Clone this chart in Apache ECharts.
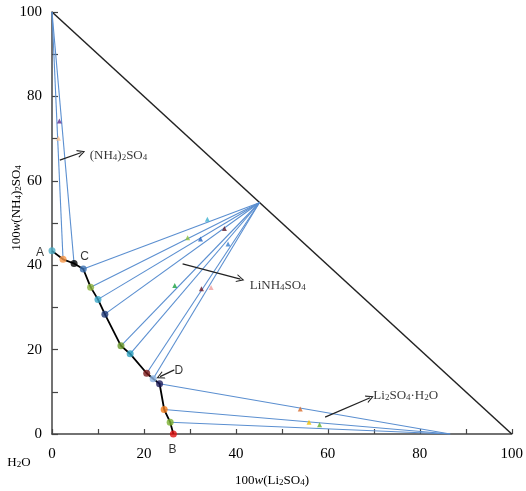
<!DOCTYPE html>
<html>
<head>
<meta charset="utf-8">
<script src="https://cdn.jsdelivr.net/npm/echarts@6/dist/echarts.min.js"></script>
<style>
  html, body { margin: 0; padding: 0; background: #fff; }
  #chart { width: 526px; height: 491px; }
</style>
</head>
<body>
<div id="chart"></div>
<script>
// solubility curve points, A -> B  (x = 100w(Li2SO4), y = 100w((NH4)2SO4))
var curveLi = [0, 2.4, 4.8, 6.8, 8.4, 10.0, 11.5, 15.0, 17.0, 20.6, 22.0, 23.4, 24.4, 25.7, 26.4];
var curveAm = [43.4, 41.4, 40.4, 39.1, 34.8, 31.9, 28.4, 20.9, 19.0, 14.4, 13.1, 11.9, 5.8, 2.8, 0];
var curveColors = ['#4bacc6', '#f79646', '#000000', '#3a6fb0', '#8ab13c', '#3aa7c9', '#1f3a78',
                   '#6a9a2a', '#2aa0c0', '#7a1a1a', '#8db4e2', '#1a1a5a', '#f07a1a', '#7ab030', '#e01010'];

// solid phase points
var solidNames = ['(NH4)2SO4', 'LiNH4SO4', 'Li2SO4·H2O'];
var solidLi = [0, 45.1, 86.6];
var solidAm = [100, 54.8, 0];
// which curve points are tied to each solid
var tieIdx = [[1, 2], [3, 4, 5, 6, 7, 8, 9, 10], [11, 12, 13]];

// wet residues
var wetLi = [1.6, 1.4, 33.8, 37.5, 29.5, 32.3, 38.3, 26.7, 32.5, 34.6, 54.0, 55.9, 58.2];
var wetAm = [74.2, 70.1, 50.9, 48.7, 46.5, 46.2, 45.0, 35.2, 34.4, 34.7, 5.9, 2.8, 2.2];
var wetColors = ['#5b2c8f', '#fac090', '#3bb0d0', '#5a1a2a', '#8cc040', '#2060c0', '#3a80d0',
                 '#1aa040', '#6a1a2a', '#f0a0a0', '#d86a28', '#f0c000', '#60b030'];

var xTicks = [0, 20, 40, 60, 80, 100];
var yTicks = [0, 20, 40, 60, 80, 100];

var serif = '"Liberation Serif", "Times New Roman", serif';
var sans = '"Liberation Sans", Arial, sans-serif';
var blue = '#5b8fd0';

var rich = {
  t: { fontSize: 13, fontFamily: serif, color: '#000', lineHeight: 18, verticalAlign: 'bottom' },
  i: { fontSize: 13, fontFamily: serif, color: '#000', fontStyle: 'italic', lineHeight: 18, verticalAlign: 'bottom' },
  s: { fontSize: 9, fontFamily: serif, color: '#000', lineHeight: 9, verticalAlign: 'bottom' }
};

var chart = echarts.init(document.getElementById('chart'));

var curveData = [];
for (var i = 0; i < curveLi.length; i++) curveData.push([curveLi[i], curveAm[i]]);

var dotData = curveData.map(function (p, i) {
  return { value: p, itemStyle: { color: curveColors[i] } };
});

var tieData = [];
tieIdx.forEach(function (list, s) {
  list.forEach(function (k) {
    tieData.push({ coords: [[solidLi[s], solidAm[s]], [curveLi[k], curveAm[k]]] });
  });
});

var wetData = wetLi.map(function (x, i) {
  return { value: [x, wetAm[i]], itemStyle: { color: wetColors[i] } };
});

// labels
var textLabels = [
  { value: [8.2, 66.6], text: '{t|(NH}{s|4}{t|)}{s|2}{t|SO}{s|4}' },
  { value: [43.0, 35.8], text: '{t|LiNH}{s|4}{t|SO}{s|4}' },
  { value: [69.9, 9.7], text: '{t|Li}{s|2}{t|SO}{s|4}{t|·H}{s|2}{t|O}' }
];
var letterLabels = [
  { value: [-2.6, 43.0], text: 'A' },
  { value: [7.1, 41.9], text: 'C' },
  { value: [27.6, 14.9], text: 'D' },
  { value: [26.2, -3.6], text: 'B' }
];
var arrows = [
  [[1.7, 64.9], [6.4, 66.7]],
  [[28.4, 40.3], [41.0, 36.7]],
  [[59.4, 4.0], [69.2, 8.6]],
  [[26.6, 15.2], [23.5, 13.6]]
];

var chevron = 'path://M0,10 L5,0 L10,10 L8.6,10 L5,2.8 L1.4,10 Z';

var option = {
  animation: false,
  grid: { left: 52, right: 9, top: 12, bottom: 57 },
  xAxis: {
    type: 'value', min: 0, max: 100, interval: 10,
    axisLine: { lineStyle: { color: '#444', width: 1.5 } },
    axisTick: { inside: true, length: 5, lineStyle: { color: '#444', width: 1.2 } },
    splitLine: { show: false },
    axisLabel: {
      margin: 13, fontSize: 15, fontFamily: serif, color: '#000',
      formatter: function (v) { return xTicks.indexOf(v) >= 0 ? v : ''; }
    }
  },
  yAxis: {
    type: 'value', min: 0, max: 100, interval: 10,
    axisLine: { lineStyle: { color: '#444', width: 1.5 } },
    axisTick: { inside: true, length: 6, lineStyle: { color: '#444', width: 1.2 } },
    splitLine: { show: false },
    axisLabel: {
      margin: 10, fontSize: 15, fontFamily: serif, color: '#000',
      formatter: function (v) { return yTicks.indexOf(v) >= 0 ? v : ''; }
    }
  },
  graphic: [
    {
      type: 'text', x: 14, y: 208, rotation: Math.PI / 2,
      style: { text: '{t|100}{i|w}{t|(NH}{s|4}{t|)}{s|2}{t|SO}{s|4}', rich: rich, align: 'center', verticalAlign: 'middle' }
    },
    {
      type: 'text', x: 272, y: 478,
      style: { text: '{t|100}{i|w}{t|(Li}{s|2}{t|SO}{s|4}{t|)}', rich: rich, align: 'center', verticalAlign: 'middle' }
    },
    {
      type: 'text', x: 19, y: 460,
      style: { text: '{t|H}{s|2}{t|O}', rich: rich, align: 'center', verticalAlign: 'middle' }
    }
  ],
  series: [
    {
      // system triangle hypotenuse
      type: 'line', data: [[0, 100], [100, 0]], symbol: 'none',
      lineStyle: { color: '#222', width: 1.5 }, z: 2
    },
    {
      type: 'lines', coordinateSystem: 'cartesian2d', data: tieData,
      lineStyle: { color: blue, width: 1.1, opacity: 1 }, z: 3
    },
    {
      type: 'line', data: curveData, symbol: 'none',
      lineStyle: { color: '#000', width: 1.8 }, z: 4
    },
    {
      type: 'scatter', data: dotData, symbol: 'circle', symbolSize: 7, z: 5
    },
    {
      type: 'scatter', data: wetData, symbol: 'triangle', symbolSize: 5, z: 5
    },
    {
      type: 'lines', coordinateSystem: 'cartesian2d',
      data: arrows.map(function (a) { return { coords: a }; }),
      symbol: ['none', chevron], symbolSize: 8,
      lineStyle: { color: '#222', width: 1.2, opacity: 1 }, z: 6
    },
    {
      type: 'scatter', data: textLabels, symbolSize: 0, clip: false, z: 7,
      label: {
        show: true, position: 'right', distance: 0,
        formatter: function (p) { return p.data.text; }, rich: rich
      }
    },
    {
      type: 'scatter', data: letterLabels, symbolSize: 0, clip: false, z: 7,
      label: {
        show: true, position: 'inside', fontSize: 12, fontFamily: sans, color: '#000',
        formatter: function (p) { return p.data.text; }
      }
    }
  ]
};

chart.setOption(option);
</script>
</body>
</html>
